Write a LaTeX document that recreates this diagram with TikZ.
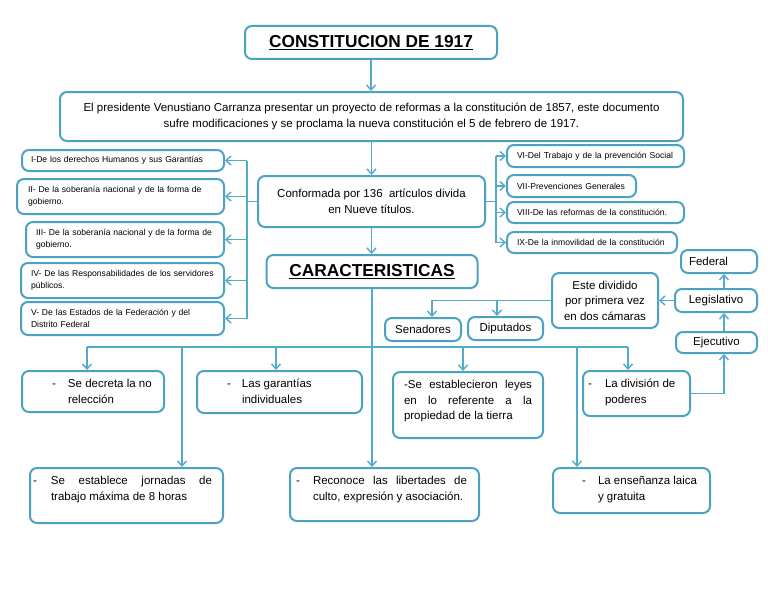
\documentclass[tikz,border=0pt]{standalone}
\usepackage{fontspec}
\setmainfont{Liberation Sans}
\usetikzlibrary{arrows.meta}
\definecolor{bc}{HTML}{4AA3C2}
\definecolor{lc}{HTML}{52ABC9}
\newcommand\dashln[2]{\mbox{\makebox[#1][l]{-}#2}}
\newcommand\indln[2]{\mbox{\hspace*{#1}#2}}
\newcommand\jst[2]{\makebox[#1][s]{#2}}
\newcommand\tbx[4]{\parbox[c][#1][t]{#2}{\vspace*{#3}#4}}
\begin{document}
\begin{tikzpicture}[x=1pt,y=-1pt,
 bx/.style={draw=bc, line width=2pt, rounded corners=7pt, fill=white, inner ysep=0pt, inner xsep=4pt, align=center, font=\fontsize{11.5}{15.5}\selectfont},
 lbx/.style={bx, font=\fontsize{8.6}{12}\selectfont, align=left},
 rbx/.style={bx, inner sep=0pt},
 arr/.style={draw=lc, line width=1.4pt, -{Straight Barb[length=5pt,width=9pt]}},
 ln/.style={draw=lc, line width=1.4pt},
]
\fill[white] (0,0) rectangle (768,594);
\useasboundingbox (0,0) rectangle (768,594);

% top
\node[bx, minimum width=252pt, minimum height=33pt, font=\bfseries\fontsize{17.3}{20}\selectfont] (title) at (371,42.5) {\underline{CONSTITUCION DE 1917}};
\node[bx, minimum width=623pt, minimum height=49pt] (pres) at (371.5,116.5) {El presidente Venustiano Carranza presentar un proyecto de reformas a la constitución de 1857, este documento\\sufre modificaciones y se proclama la nueva constitución el 5 de febrero de 1917.};
\node[bx, minimum width=227pt, minimum height=51pt] (conf) at (371.5,201.5) {Conformada por 136\ \ artículos divida\\en Nueve títulos.};

% left list
\node[lbx, minimum width=202pt, minimum height=21pt, text width=184pt, inner xsep=9pt] (t1) at (123,160.5) {\mbox{I-De los derechos Humanos y sus Garantías}};
\node[lbx, minimum width=207pt, minimum height=35pt, text width=185pt, inner xsep=11pt] (t2) at (120.5,196.5) {\mbox{II- De la soberanía nacional y de la forma de}\\\mbox{gobierno.}};
\node[lbx, minimum width=198pt, minimum height=35pt, text width=178pt, inner xsep=10pt] (t3) at (125,239.5) {\mbox{III- De la soberanía nacional y de la forma de}\\\mbox{gobierno.}};
\node[lbx, minimum width=203pt, minimum height=35pt, text width=183pt, inner xsep=10pt] (t4) at (122.5,280.5) {\mbox{IV- De las Responsabilidades de los servidores}\\\mbox{públicos.}};
\node[lbx, minimum width=203pt, minimum height=33pt, text width=183pt, inner xsep=10pt] (t5) at (122.5,318.5) {\mbox{V- De las Estados de la Federación y del}\\\mbox{Distrito Federal}};

% right list
\node[lbx, minimum width=177pt, minimum height=22pt, text width=157pt, inner xsep=10pt] (t6) at (595.5,156) {\mbox{VI-Del Trabajo y de la prevención Social}};
\node[lbx, minimum width=129pt, minimum height=22pt, text width=109pt, inner xsep=10pt] (t7) at (571.5,186) {\mbox{VII-Prevenciones Generales}};
\node[lbx, minimum width=177pt, minimum height=21pt, text width=157pt, inner xsep=10pt] (t8) at (595.5,212.5) {\mbox{VIII-De las reformas de la constitución.}};
\node[lbx, minimum width=170pt, minimum height=21pt, text width=150pt, inner xsep=10pt] (t9) at (592,242.5) {\mbox{IX-De la inmovilidad de la constitución}};

% caracteristicas
\node[bx, minimum width=211pt, minimum height=33pt, font=\bfseries\fontsize{17.3}{20}\selectfont] (car) at (372,271.5) {\underline{CARACTERISTICAS}};

% powers
\node[bx, minimum width=76pt, minimum height=23pt, text width=60pt, inner xsep=8pt, align=left] (fed) at (719,261.5) {Federal};
\node[bx, minimum width=82pt, minimum height=23pt] (leg) at (716,300.5) {Legislativo};
\node[bx, minimum width=81pt, minimum height=21pt] (eje) at (716.5,342.5) {Ejecutivo};
\node[bx, minimum width=106pt, minimum height=55pt] (este) at (605,300.5) {Este dividido\\por primera vez\\en dos cámaras};
\node[bx, minimum width=76pt, minimum height=23pt] (sen) at (423,329.5) {Senadores};
\node[bx, minimum width=75pt, minimum height=23pt] (dip) at (505.5,328.5) {Diputados};

% row 1
\node[rbx, minimum width=142pt, minimum height=41pt] (dec) at (93,391.5) {\tbx{41pt}{82pt}{8.5pt}{\dashln{16pt}{Se decreta la no}\\\indln{16pt}{relección}}};
\node[rbx, minimum width=165pt, minimum height=42pt] (gar) at (279.5,392) {\tbx{42pt}{105pt}{8.5pt}{\dashln{15pt}{Las garantías}\\\indln{15pt}{individuales}}};
\node[rbx, minimum width=150pt, minimum height=66pt] (ley) at (468,405) {\tbx{66pt}{128pt}{8.5pt}{\jst{128pt}{-Se establecieron leyes}\\\jst{128pt}{en lo referente a la}\\\mbox{propiedad de la tierra}}};
\node[rbx, minimum width=107pt, minimum height=45pt] (div) at (636.5,393.5) {\tbx{45pt}{97pt}{8.5pt}{\dashln{17pt}{La división de}\\\indln{17pt}{poderes}}};

% row 2
\node[rbx, minimum width=193pt, minimum height=55pt] (jor) at (126.5,495.5) {\tbx{55pt}{187pt}{8.5pt}{\dashln{18pt}{\jst{161pt}{Se establece jornadas de}}\\\indln{18pt}{trabajo máxima de 8 horas}}};
\node[rbx, minimum width=189pt, minimum height=53pt] (rec) at (384.5,494.5) {\tbx{53pt}{177pt}{8.5pt}{\dashln{17pt}{\jst{154pt}{Reconoce las libertades de}}\\\indln{17pt}{culto, expresión y asociación.}}};
\node[rbx, minimum width=157pt, minimum height=45pt] (ens) at (631.5,490.5) {\tbx{45pt}{99pt}{8.5pt}{\dashln{16pt}{La enseñanza laica}\\\indln{16pt}{y gratuita}}};

% connectors top
\draw[arr] (title.south) -- (title.south |- pres.north);
\draw[arr] (pres.south) -- (pres.south |- conf.north);
\draw[arr] (conf.south) -- (conf.south |- car.north);

% left bracket
\coordinate (ls) at (247,0);
\draw[ln] (conf.west) -- (conf.west -| ls);
\draw[ln] (t1.east -| ls) -- (t5.east -| ls);
\foreach \n in {t1,t2,t3,t4,t5} \draw[arr] (\n.east -| ls) -- (\n.east);

% right bracket
\coordinate (rs) at (496,0);
\draw[ln] (conf.east) -- (conf.east -| rs);
\draw[ln] (t6.west -| rs) -- (t9.west -| rs);
\foreach \n in {t6,t7,t8,t9} \draw[arr] (\n.west -| rs) -- (\n.west);

% characteristics bus
\coordinate (b1) at (87,347);
\coordinate (b2) at (182,347);
\coordinate (b3) at (276,347);
\coordinate (b4) at (463,347);
\coordinate (b5) at (577,347);
\coordinate (b6) at (628,347);
\draw[ln] (b1) -- (b6);
\draw[arr] (car.south) -- (car.south |- rec.north);
\draw[arr] (b1) -- (b1 |- dec.north);
\draw[arr] (b2) -- (b2 |- jor.north);
\draw[arr] (b3) -- (b3 |- gar.north);
\draw[arr] (b4) -- (b4 |- ley.north);
\draw[arr] (b5) -- (b5 |- ens.north);
\draw[arr] (b6) -- (b6 |- div.north);

% powers connectors
\coordinate (vx) at (724,0);
\draw[arr] (leg.north -| vx) -- (fed.south -| vx);
\draw[arr] (eje.north -| vx) -- (leg.south -| vx);
\draw[arr] (div.east) -| (eje.south -| vx);
\draw[arr] (leg.west) -- (leg.west -| este.east);
\coordinate (sx) at (432,0);
\coordinate (dx) at (497,0);
\draw[arr] (este.west) -| (sen.north -| sx);
\draw[arr] (este.west -| dx) -- (dip.north -| dx);
\end{tikzpicture}
\end{document}
